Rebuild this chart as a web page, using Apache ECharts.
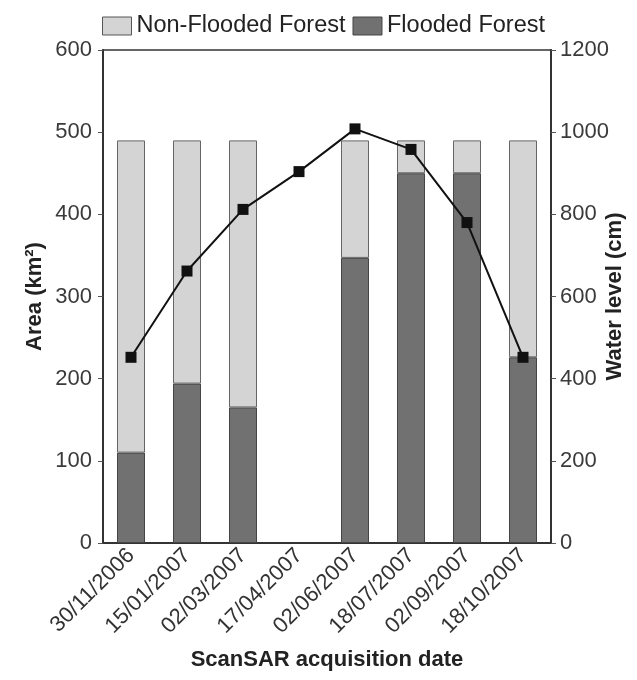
<!DOCTYPE html>
<html>
<head>
<meta charset="utf-8">
<script src="https://cdn.jsdelivr.net/npm/echarts@6/dist/echarts.min.js"></script>
<style>
  html, body { margin: 0; padding: 0; background: #fff; }
  #chart { width: 637px; height: 680px; }
</style>
</head>
<body>
<div id="chart"></div>
<script>
// Acquisition dates (ScanSAR scenes)
const dates = ['30/11/2006', '15/01/2007', '02/03/2007', '17/04/2007',
               '02/06/2007', '18/07/2007', '02/09/2007', '18/10/2007'];
// Forest area (km²) split into flooded / non-flooded parts
const floodedForest    = [110, 194, 165, null, 347, 450, 450, 226];
const nonFloodedForest = [380, 296, 325, null, 143, 40, 40, 264];
// Water level at the gauge (cm)
const waterLevel = [452, 662, 812, 904, 1008, 958, 780, 452];
// Axis tick ranges
const areaTicks  = { min: 0, max: 600, step: 100 };
const levelTicks = { min: 0, max: 1200, step: 200 };

const FONT = 'Liberation Sans, Arial, sans-serif';
const plain = v => String(v);
const chart = echarts.init(document.getElementById('chart'), null, { renderer: 'canvas' });

chart.setOption({
  backgroundColor: '#ffffff',
  animation: false,
  textStyle: { fontFamily: FONT },
  legend: {
    left: 102, top: 14, padding: 0,
    itemWidth: 29, itemHeight: 18, itemGap: 7,
    textStyle: { fontFamily: FONT, fontSize: 23.5, color: '#222' },
    data: [
      { name: 'Non-Flooded Forest', icon: 'rect', itemStyle: { color: '#d4d4d4', borderColor: '#555', borderWidth: 1 } },
      { name: 'Flooded Forest', icon: 'rect', itemStyle: { color: '#717171', borderColor: '#444', borderWidth: 1 } }
    ]
  },
  grid: {
    left: 103, right: 86, top: 50, bottom: 137,
    outerBoundsMode: 'none',
    containLabel: false,
    show: true, borderColor: '#333', borderWidth: 1.5, backgroundColor: 'transparent'
  },
  xAxis: {
    type: 'category',
    data: dates,
    name: 'ScanSAR acquisition date',
    nameLocation: 'middle',
    nameGap: 106,
    nameMoveOverlap: false,
    nameTextStyle: { fontFamily: FONT, fontSize: 22, fontWeight: 'bold', color: '#222' },
    axisLine: { lineStyle: { color: '#333', width: 2 } },
    axisTick: { show: false },
    axisLabel: { rotate: 45, fontFamily: FONT, fontSize: 22, color: '#333', margin: 9, interval: 0 }
  },
  yAxis: [
    {
      type: 'value',
      min: areaTicks.min, max: areaTicks.max, interval: areaTicks.step,
      name: 'Area (km²)',
      nameLocation: 'middle',
      nameRotate: 90,
      nameGap: 57,
      nameMoveOverlap: false,
      nameTextStyle: { fontFamily: FONT, fontSize: 22, fontWeight: 'bold', color: '#222' },
      axisLine: { show: true, lineStyle: { color: '#333', width: 2 } },
      axisTick: { show: true, length: 5, lineStyle: { color: '#555', width: 1 } },
      axisLabel: { fontFamily: FONT, fontSize: 22, color: '#3a3a3a', margin: 11, formatter: plain },
      splitLine: { show: false }
    },
    {
      type: 'value',
      position: 'right',
      min: levelTicks.min, max: levelTicks.max, interval: levelTicks.step,
      name: 'Water level (cm)',
      nameLocation: 'middle',
      nameRotate: 90,
      nameGap: 53,
      nameMoveOverlap: false,
      nameTextStyle: { fontFamily: FONT, fontSize: 22, fontWeight: 'bold', color: '#222' },
      axisLine: { show: true, lineStyle: { color: '#333', width: 2 } },
      axisTick: { show: true, length: 5, lineStyle: { color: '#555', width: 1 } },
      axisLabel: { fontFamily: FONT, fontSize: 22, color: '#3a3a3a', margin: 9, formatter: plain },
      splitLine: { show: false }
    }
  ],
  series: [
    {
      name: 'Flooded Forest',
      type: 'bar',
      stack: 'area',
      barWidth: 28,
      data: floodedForest,
      itemStyle: { color: '#717171', borderColor: '#444', borderWidth: 1 }
    },
    {
      name: 'Non-Flooded Forest',
      type: 'bar',
      stack: 'area',
      barWidth: 28,
      data: nonFloodedForest,
      itemStyle: { color: '#d4d4d4', borderColor: '#666', borderWidth: 1 }
    },
    {
      name: 'Water level',
      type: 'line',
      yAxisIndex: 1,
      data: waterLevel,
      symbol: 'rect',
      symbolSize: 11,
      lineStyle: { color: '#111', width: 2 },
      itemStyle: { color: '#111' },
      z: 5
    }
  ]
});
</script>
</body>
</html>
